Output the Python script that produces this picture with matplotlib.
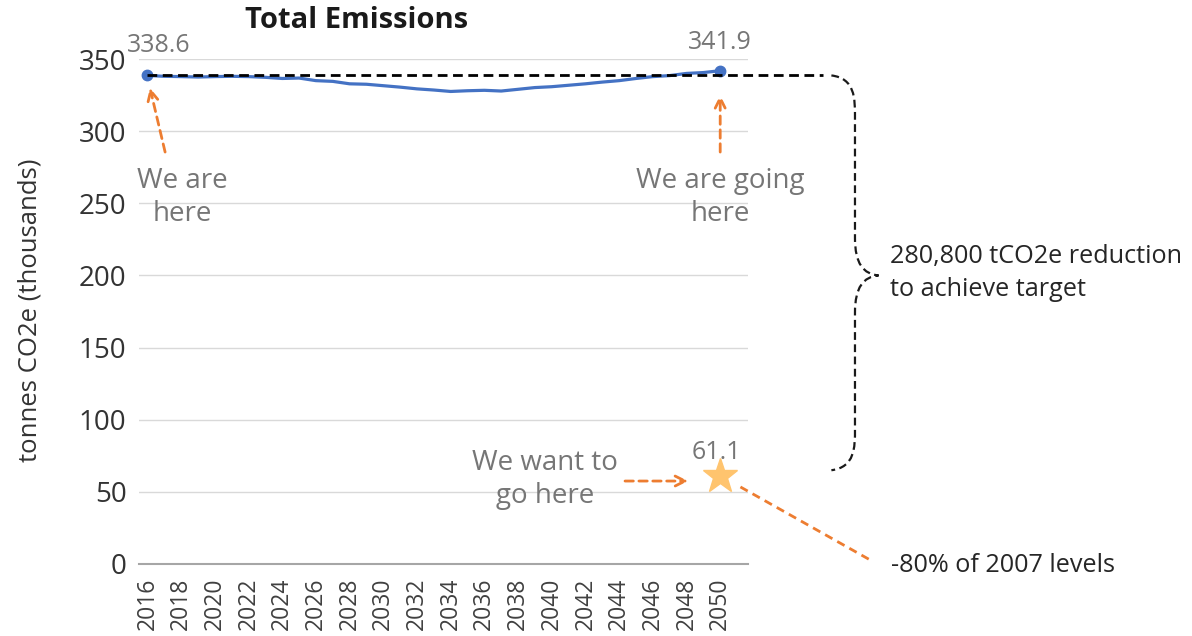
import matplotlib
matplotlib.use("Agg")
import matplotlib.pyplot as plt
from matplotlib.path import Path
from matplotlib.patches import PathPatch

plt.rcParams['font.family'] = ['Open Sans', 'DejaVu Sans']

years = list(range(2016, 2051))
emissions = [338.6, 338.0, 337.8, 337.5, 337.8, 338.0, 337.8, 337.3, 336.5, 336.8,
             335.0, 334.5, 332.8, 332.5, 331.5, 330.5, 329.3, 328.5, 327.5, 328.0,
             328.3, 327.8, 329.0, 330.2, 330.8, 331.8, 332.8, 334.0, 335.0, 336.5,
             337.8, 338.5, 340.0, 340.6, 341.9]
target_year = 2050
target_value = 61.1
yticks = [0, 50, 100, 150, 200, 250, 300, 350]
xtick_years = list(range(2016, 2051, 2))

BLUE = '#4472C4'
ORANGE = '#ED7D31'
STAR = '#FFC46E'
GRAY = '#767676'
DARK = '#333333'

fig = plt.figure(figsize=(11.92, 6.36), dpi=100)
ax = fig.add_axes([139/1192, 1-564/636, (748-139)/1192, (564-59)/636])

ax.set_xlim(2015.5, 2051.65)
ax.set_ylim(0, 350)
ax.set_yticks(yticks)
ax.set_xticks(xtick_years)
ax.set_xticklabels([str(y) for y in xtick_years], rotation=90, fontsize=16.5, color='#404040')
ax.tick_params(axis='y', length=0, labelsize=20, labelcolor=DARK, pad=9)
ax.tick_params(axis='x', length=0, pad=10)
ax.grid(axis='y', color='#D9D9D9', lw=1)
ax.set_axisbelow(True)
for s in ['top', 'right', 'left']:
    ax.spines[s].set_visible(False)
ax.spines['bottom'].set_color('#A6A6A6')
ax.spines['bottom'].set_linewidth(1.5)

# main line
ax.plot(years, emissions, color=BLUE, lw=2.3, zorder=3)
ax.plot([years[0], years[-1]], [emissions[0], emissions[-1]], 'o', color=BLUE, ms=7.5, zorder=4)

# dashed reference line
ax.plot([years[0], 2056.1], [emissions[0], emissions[0]], color='black', lw=2,
        ls=(0, (3.5, 2)), clip_on=False, zorder=5)

# target star
ax.plot([target_year], [target_value], marker='*', color=STAR, ms=26, mec=STAR, zorder=4, clip_on=False)

# value labels
ax.text(2016.68, 359.7, f"{emissions[0]:.1f}", ha='center', va='center', fontsize=18, color=GRAY, clip_on=False)
ax.text(years[-1], 361.7, f"{emissions[-1]:.1f}", ha='center', va='center', fontsize=18, color=GRAY, clip_on=False)
ax.text(2049.8, 77.6, f"{target_value:.1f}", ha='center', va='center', fontsize=18, color=GRAY)

# texts
ax.text(2018.05, 254, "We are\nhere", ha='center', va='center', fontsize=20, color=GRAY, linespacing=1.22)
ax.text(2050, 254, "We are going\nhere", ha='center', va='center', fontsize=20, color=GRAY, linespacing=1.22)
ax.text(2039.6, 58.5, "We want to\ngo here", ha='center', va='center', fontsize=20, color=GRAY, linespacing=1.22)

arrow_kw = dict(arrowstyle='->', color=ORANGE, lw=2, ls=(0, (3, 2)), mutation_scale=18, shrinkA=0, shrinkB=0)
ax.annotate('', xy=(2016.15, 330), xytext=(2017.05, 285.5), arrowprops=arrow_kw, annotation_clip=False)
ax.annotate('', xy=(2050, 325), xytext=(2050, 285.5), arrowprops=arrow_kw, annotation_clip=False)
ax.annotate('', xy=(2048.1, 57.5), xytext=(2044.35, 57.5), arrowprops=arrow_kw, annotation_clip=False)

# -80% line
ax.plot([2051.2, 2058.9], [53.4, 2.8], color=ORANGE, lw=2, ls=(0, (3, 2)), clip_on=False)
ax.text(2060.15, -0.7, "-80% of 2007 levels", ha='left', va='center', fontsize=18.2, color='#262626', clip_on=False)

# brace
x0, xv, xt = 2056.6, 2058.0, 2059.4
ytop, ymid, ybot = 338.6, 200.0, 65.0
verts = [(x0, ytop), (xv, ytop - 2), (xv, ytop - 16), (xv, ytop - 28),
         (xv, ymid + 26),
         (xv, ymid + 8), (xt - 0.9, ymid + 1), (xt, ymid),
         (xt - 0.9, ymid - 1), (xv, ymid - 8), (xv, ymid - 26),
         (xv, ybot + 28),
         (xv, ybot + 16), (xv, ybot + 2), (x0, ybot)]
codes = [Path.MOVETO, Path.CURVE4, Path.CURVE4, Path.CURVE4,
         Path.LINETO,
         Path.CURVE4, Path.CURVE4, Path.CURVE4,
         Path.CURVE4, Path.CURVE4, Path.CURVE4,
         Path.LINETO,
         Path.CURVE4, Path.CURVE4, Path.CURVE4]
brace = PathPatch(Path(verts, codes), fill=False, ec='#1A1A1A', lw=1.6, ls=(0, (3.5, 2)), clip_on=False)
ax.add_patch(brace)
ax.text(2060.1, 201.7, "280,800 tCO2e reduction\nto achieve target", ha='left', va='center',
        fontsize=18.2, color='#262626', linespacing=1.45, clip_on=False)

fig.text(357/1192, 1-20/636, "Total Emissions", ha='center', va='center', fontsize=21,
         fontweight='bold', color='#1A1A1A')
fig.text(30/1192, 1-310/636, "tonnes CO2e (thousands)", ha='center', va='center', rotation=90,
         fontsize=18.5, color=DARK)

fig.savefig('out.png', dpi=100)
